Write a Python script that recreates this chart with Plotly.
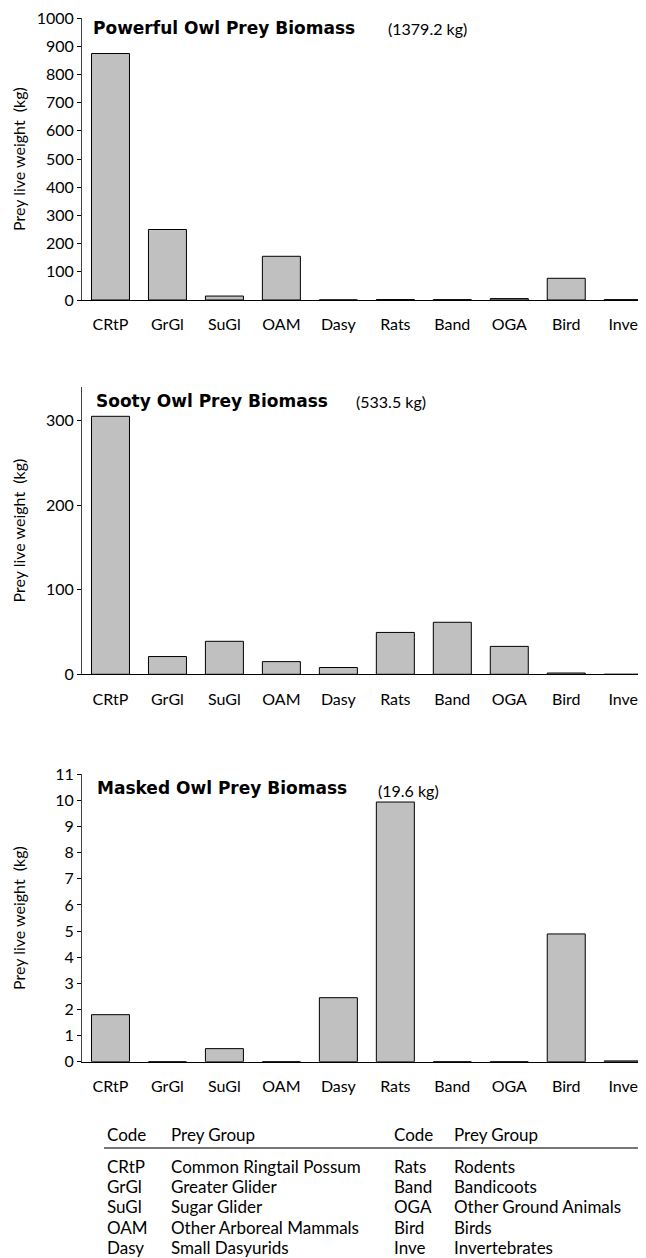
import plotly.graph_objects as go

# page is drawn with an 8px body margin, so the figure is 8px smaller and
# all reference pixel positions are shifted by 8px
OFF = 8
W, H = 646 - OFF, 1258 - OFF

codes = ["CRtP", "GrGl", "SuGl", "OAM", "Dasy", "Rats", "Band", "OGA", "Bird", "Inve"]
powerful = [874, 250, 14, 155, 0.3, 1.5, 1.2, 5, 77, 1.2]
sooty = [305, 21, 39, 15, 8, 49.5, 61.5, 33, 1.5, 0]
masked = [1.8, 0, 0.5, 0, 2.45, 9.94, 0, 0, 4.89, 0.03]

titles = ["Powerful Owl Prey Biomass", "Sooty Owl Prey Biomass", "Masked Owl Prey Biomass"]
totals = ["(1379.2 kg)", "(533.5 kg)", "(19.6 kg)"]
y_title = "Prey live weight\u00a0 (kg)"

table_left_codes = ["CRtP", "GrGl", "SuGl", "OAM", "Dasy"]
table_left_groups = ["Common Ringtail Possum", "Greater Glider", "Sugar Glider",
                     "Other Arboreal Mammals", "Small Dasyurids"]
table_right_codes = ["Rats", "Band", "OGA", "Bird", "Inve"]
table_right_groups = ["Rodents", "Bandicoots", "Other Ground Animals", "Birds", "Invertebrates"]

FONT = "Lato"
BOLD = "DejaVu Sans"

def px(x):
    return (x - OFF) / W

def py(y):
    return 1 - (y - OFF) / H

series = [powerful, sooty, masked]
# reference pixel layout: (top, bottom) of each plot area
panels = [(18, 300), (386.7, 674.3), (774.3, 1061.7)]
yranges = [[0, 1000.01], [0, 340], [0, 11.001]]
dticks = [100, 100, 1]
title_pos = [((91, 28), (386, 28)), ((94, 401), (354, 402)), ((95, 788), (376, 790))]

fig = go.Figure()
annotations = []
for i, (vals, (top, bot)) in enumerate(zip(series, panels)):
    sfx = "" if i == 0 else str(i + 1)
    fig.add_trace(go.Bar(
        x=codes, y=vals, xaxis="x" + sfx, yaxis="y" + sfx,
        marker=dict(color="#C0C0C0", line=dict(color="black", width=1)),
        showlegend=False, hoverinfo="x+y",
    ))
    fig.layout["xaxis" + sfx] = dict(
        domain=[px(82), 1], range=[-0.5, 9.4], anchor="y" + sfx,
        showline=True, linecolor="black", linewidth=1, ticks="",
        showgrid=False, zeroline=False, automargin=False,
        ticklabelstandoff=10,
        tickfont=dict(family=FONT, size=16, color="black"),
        type="category",
    )
    fig.layout["yaxis" + sfx] = dict(
        domain=[py(bot), py(top)], range=yranges[i], anchor="x" + sfx,
        dtick=dticks[i], tick0=0,
        showline=True, linecolor="#444", linewidth=1,
        ticks="outside", ticklen=4, tickcolor="black", tickwidth=1,
        showgrid=False, zeroline=False, automargin=False,
        ticklabeloverflow="allow",
        tickfont=dict(family=FONT, size=16, color="black"),
    )
    (tx, ty), (sx, sy) = title_pos[i]
    annotations.append(dict(text="<b>" + titles[i] + "</b>", x=px(tx), y=py(ty),
                            xref="paper", yref="paper", xanchor="left", yanchor="middle",
                            showarrow=False, font=dict(family=BOLD, size=17, color="black")))
    annotations.append(dict(text=totals[i], x=px(sx), y=py(sy),
                            xref="paper", yref="paper", xanchor="left", yanchor="middle",
                            showarrow=False, font=dict(family=FONT, size=16, color="black")))
    annotations.append(dict(text=y_title, x=px(18), y=py((top + bot) / 2),
                            xref="paper", yref="paper", xanchor="center", yanchor="middle",
                            textangle=-90, showarrow=False,
                            font=dict(family=FONT, size=16, color="black")))

# code table
header_y = 1134
row_ys = [1166, 1186, 1206, 1227, 1247]
cols = [(105, 169), (392, 452)]
TF = dict(family=FONT, size=17, color="black")
for (cx, gx) in cols:
    annotations.append(dict(text="Code", x=px(cx), y=py(header_y), xref="paper", yref="paper",
                            xanchor="left", yanchor="middle", showarrow=False, font=TF))
    annotations.append(dict(text="Prey Group", x=px(gx), y=py(header_y), xref="paper", yref="paper",
                            xanchor="left", yanchor="middle", showarrow=False, font=TF))
for (cx, gx), cl, gl in [(cols[0], table_left_codes, table_left_groups),
                         (cols[1], table_right_codes, table_right_groups)]:
    for ry, c, g in zip(row_ys, cl, gl):
        annotations.append(dict(text=c, x=px(cx), y=py(ry), xref="paper", yref="paper",
                                xanchor="left", yanchor="middle", showarrow=False, font=TF))
        annotations.append(dict(text=g, x=px(gx), y=py(ry), xref="paper", yref="paper",
                                xanchor="left", yanchor="middle", showarrow=False, font=TF))

fig.update_layout(
    width=W, height=H, template="none",
    margin=dict(l=0, r=0, t=0, b=0),
    paper_bgcolor="white", plot_bgcolor="white",
    bargap=0.333, showlegend=False,
    annotations=annotations,
    shapes=[dict(type="line", xref="paper", yref="paper",
                 x0=px(104), x1=1, y0=py(1148), y1=py(1148),
                 line=dict(color="#777", width=2))],
)

fig.write_html("out.html")
